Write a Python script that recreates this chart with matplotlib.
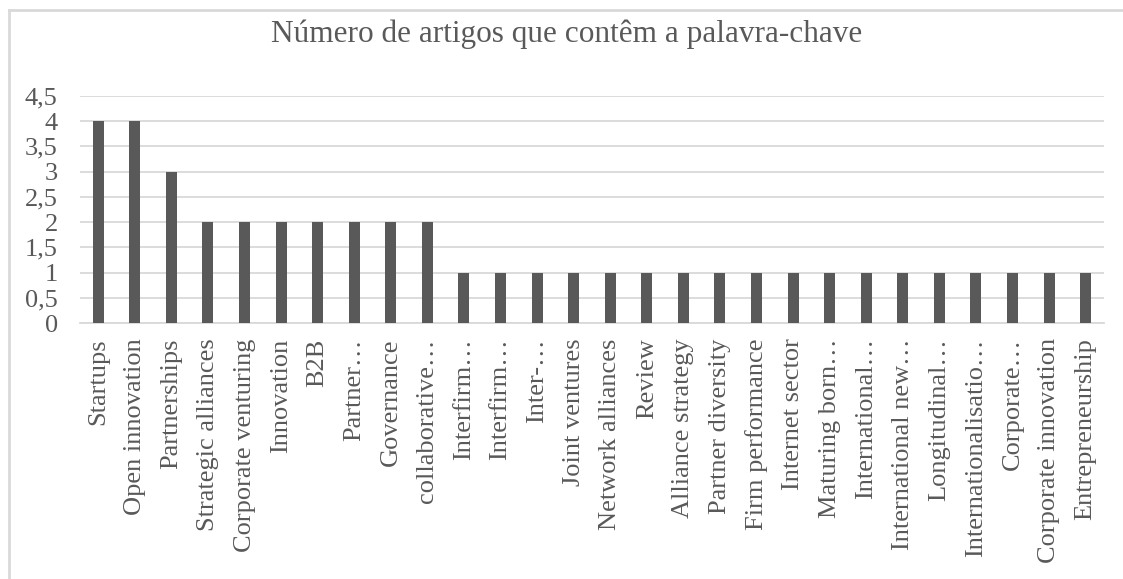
import matplotlib.pyplot as plt
from matplotlib.lines import Line2D

keywords = [
    "Startups", "Open innovation", "Partnerships", "Strategic alliances",
    "Corporate venturing", "Innovation", "B2B", "Partner…", "Governance",
    "collaborative…", "Interfirm…", "Interfirm…", "Inter-…", "Joint ventures",
    "Network alliances", "Review", "Alliance strategy", "Partner diversity",
    "Firm performance", "Internet sector", "Maturing born…", "International…",
    "International new…", "Longitudinal…", "Internationalisatio…", "Corporate…",
    "Corporate innovation", "Entrepreneurship",
]
counts = [4, 4, 3, 2, 2, 2, 2, 2, 2, 2, 1, 1, 1, 1, 1, 1, 1, 1, 1, 1, 1, 1,
          1, 1, 1, 1, 1, 1]
yticks = [0, 0.5, 1, 1.5, 2, 2.5, 3, 3.5, 4, 4.5]
ytick_labels = ["0", "0,5", "1", "1,5", "2", "2,5", "3", "3,5", "4", "4,5"]

plt.rcParams['font.family'] = ['Liberation Serif', 'DejaVu Serif']
grey = "#595959"
light = "#d9d9d9"

fig = plt.figure(figsize=(11.23, 5.79), dpi=100)
ax = fig.add_axes([0.0712, 0.4421, 0.9118, 0.3921])

x = list(range(len(keywords)))
ax.bar(x, counts, width=0.3, color=grey, zorder=3)

ax.set_xlim(-0.5, len(keywords) - 0.5)
ax.set_ylim(0, 4.5)
ax.set_yticks(yticks)
ax.set_yticklabels(ytick_labels)
ax.set_xticks(x)
ax.set_xticklabels(keywords, rotation=90, ha="center", va="top")

ax.tick_params(axis="both", length=0, labelsize=19, labelcolor=grey)
ax.tick_params(axis="x", pad=11)
ax.tick_params(axis="y", pad=16)
ax.yaxis.grid(True, color=light, linewidth=1.3, zorder=0)
for side in ["top", "right", "left"]:
    ax.spines[side].set_visible(False)
ax.spines["bottom"].set_color(light)
ax.spines["bottom"].set_linewidth(1.3)

fig.text(0.505, 0.94, "Número de artigos que contêm a palavra-chave",
         ha="center", va="center", fontsize=22.5, color=grey)

# outer chart frame (cut off at right and bottom)
W, H = 1123, 579
fig.add_artist(Line2D([8.5 / W, 8.5 / W], [0, 1 - 9.5 / H],
                      transform=fig.transFigure, color=light, linewidth=2))
fig.add_artist(Line2D([8.5 / W, 1], [1 - 9.5 / H, 1 - 9.5 / H],
                      transform=fig.transFigure, color=light, linewidth=2))

fig.savefig("out.png", dpi=100)
